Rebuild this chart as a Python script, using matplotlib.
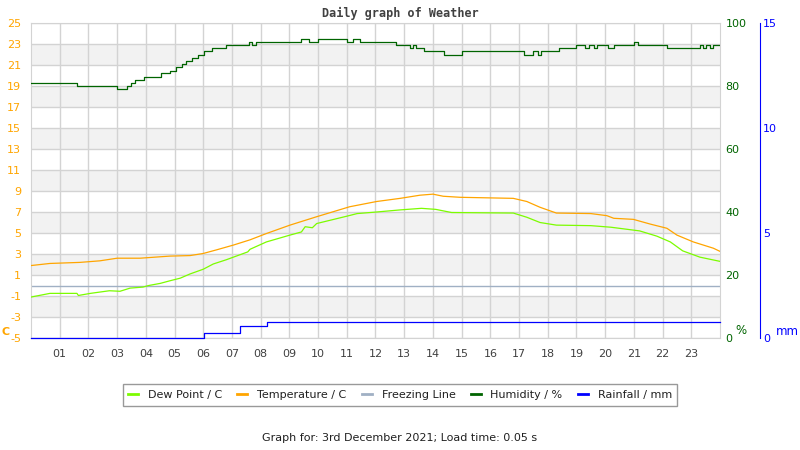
import numpy as np
import matplotlib
matplotlib.use("Agg")
import matplotlib.pyplot as plt
from matplotlib.lines import Line2D

plt.rcParams["axes.unicode_minus"] = False

# readings for the day (hours from midnight)
temp_h = [0, 0.66, 1.7, 2.4, 3.0, 3.8, 4.84, 5.54, 6.0, 6.47, 7.05, 7.63, 8.2, 9.02, 9.95,
          11.1, 12.04, 12.86, 13.55, 14.0, 14.36, 14.95, 16.8, 17.27, 17.73, 18.3, 19.5,
          20.06, 20.3, 20.98, 21.57, 22.15, 22.5, 23.07, 23.77, 24]
temp_c = [1.9, 2.1, 2.2, 2.35, 2.6, 2.6, 2.8, 2.85, 3.05, 3.4, 3.85, 4.35, 4.95, 5.75, 6.55,
          7.5, 8.0, 8.3, 8.6, 8.7, 8.5, 8.4, 8.3, 8.0, 7.45, 6.9, 6.85,
          6.65, 6.4, 6.3, 5.85, 5.45, 4.8, 4.15, 3.55, 3.25]

dew_h = [0, 0.66, 1.6, 1.65, 2.07, 2.73, 3.1, 3.45, 3.9, 4.1, 4.5, 4.84, 5.2, 5.54, 6.0,
         6.35, 6.8, 7.55, 7.63, 8.2, 9.02, 9.42, 9.55, 9.8, 9.95, 11.0, 11.36, 12.04,
         12.86, 13.6, 14.1, 14.65, 16.8, 17.27, 17.73, 18.3, 19.5, 20.2, 21.2, 21.8,
         22.27, 22.7, 23.3, 24]
dew_c = [-1.1, -0.75, -0.75, -0.95, -0.75, -0.5, -0.55, -0.25, -0.15, 0.0, 0.2, 0.45, 0.7,
         1.1, 1.55, 2.05, 2.45, 3.2, 3.45, 4.15, 4.8, 5.1, 5.6, 5.5, 5.9, 6.6, 6.85, 7.0,
         7.2, 7.35, 7.25, 6.95, 6.9, 6.5, 6.0, 5.75, 5.7, 5.55, 5.2, 4.7,
         4.15, 3.3, 2.7, 2.3]

hum_h = [0, 1.61, 2.99, 3.36, 3.5, 3.62, 3.95, 4.53, 4.84, 5.05, 5.25, 5.4, 5.6, 5.8, 6.03,
         6.3, 6.8, 7.6, 7.7, 7.83, 9.4, 9.7, 9.98, 11.0, 11.2, 11.45, 12.7, 13.2, 13.3,
         13.4, 13.7, 14.39, 15.0, 17.18, 17.5, 17.65, 17.75, 18.4, 19.0, 19.3, 19.45,
         19.6, 19.7, 20.1, 20.3, 21.0, 21.15, 22.15, 23.3, 23.4, 23.5, 23.65, 23.75, 24]
hum_pct = [80.9, 79.9, 79.0, 79.9, 80.9, 81.8, 83.0, 84.1, 84.9, 85.9, 86.9, 87.8, 88.8,
           90.0, 91.0, 92.0, 92.9, 93.9, 92.9, 93.9, 94.8, 93.9, 94.8, 93.9, 94.8, 93.9,
           92.9, 92.0, 92.9, 92.0, 91.0, 90.0, 91.0, 90.0, 91.0, 90.0, 91.0, 92.0, 92.9,
           92.0, 92.9, 92.0, 92.9, 92.0, 92.9, 93.9, 92.9, 92.0, 92.9, 92.0, 92.9, 92.0,
           92.9, 92.9]

rain_h = [0, 6.03, 7.28, 8.21, 24]
rain_mm = [0, 0.24, 0.56, 0.76, 0.76]

hour_labels = ["%02d" % h for h in range(1, 24)]
left_ticks = list(range(-5, 26, 2))

orange = "#FFA500"
dgreen = "#006400"

fig = plt.figure(figsize=(8, 4.5), dpi=100)
ax = fig.add_axes([31/800, 112/450, 689/800, 315/450])

# banded background
for lo in range(-3, 25, 4):
    ax.axhspan(lo, lo + 2, color="#F2F2F2", zorder=0, lw=0)
ax.set_xlim(0, 24)
ax.set_ylim(-5, 25)
ax.set_yticks(left_ticks)
ax.set_xticks(range(1, 24))
ax.set_xticklabels(hour_labels)
ax.grid(True, color="#D3D3D3", lw=1, zorder=1)
ax.set_axisbelow(True)
ax.tick_params(axis="y", length=0, pad=7, labelsize=8, labelcolor=orange)
ax.tick_params(axis="x", length=0, pad=8, labelsize=8, labelcolor="#404040")
for s in ax.spines.values():
    s.set_color("#D3D3D3")

ax.axhline(0, color="#A0B0C4", lw=1, zorder=2)
ax.plot(dew_h, dew_c, color="#7CFC00", lw=0.9, zorder=3)
ax.plot(temp_h, temp_c, color=orange, lw=0.9, zorder=3)

ax2 = ax.twinx()
ax2.set_ylim(0, 100)
ax2.set_yticks([0, 20, 40, 60, 80, 100])
ax2.step(hum_h, hum_pct, where="post", color=dgreen, lw=0.9)
ax2.tick_params(axis="y", length=0, pad=4, labelsize=8, labelcolor=dgreen)
for s in ax2.spines.values():
    s.set_visible(False)

ax3 = ax.twinx()
ax3.set_ylim(0, 15)
ax3.set_yticks([0, 5, 10, 15])
ax3.step(rain_h, rain_mm, where="post", color="blue", lw=0.9, clip_on=False)
ax3.spines["right"].set_position(("axes", (760.5 - 31) / 689))
for k in ["left", "top", "bottom"]:
    ax3.spines[k].set_visible(False)
ax3.spines["right"].set_color("blue")
ax3.tick_params(axis="y", length=0, pad=2, labelsize=8, labelcolor="blue")

fig.text(400/800, 1 - 13/450, "Daily graph of Weather", ha="center", va="center",
         family="DejaVu Sans Mono", weight="bold", fontsize=8.5, color="#404040")
fig.text(1/800, 1 - 337/450, "C", ha="left", va="bottom", fontsize=8,
         weight="bold", color=orange)
fig.text(735/800, 1 - 337/450, "%", ha="left", va="bottom", fontsize=8.5, color=dgreen)
fig.text(776/800, 1 - 338/450, "mm", ha="left", va="bottom", fontsize=8.5, color="blue")

handles = [Line2D([], [], color=c, lw=2) for c in ["#7CFC00", orange, "#A0B0C4", dgreen, "blue"]]
names = ["Dew Point / C", "Temperature / C", "Freezing Line", "Humidity / %", "Rainfall / mm"]
leg = fig.legend(handles, names, loc="center", bbox_to_anchor=(400/800, 1 - 395/450),
                 ncol=5, fontsize=8, frameon=True, fancybox=False, handlelength=0.9,
                 handletextpad=0.9, columnspacing=1.35, borderpad=0.5, borderaxespad=0)
leg.get_frame().set_edgecolor("#808080")
leg.get_frame().set_linewidth(1)
for t in leg.get_texts():
    t.set_color("#202020")

fig.text(400/800, 1 - 438/450, "Graph for: 3rd December 2021; Load time: 0.05 s",
         ha="center", va="center", fontsize=8, color="#202020")

fig.savefig("out.png", dpi=100)
